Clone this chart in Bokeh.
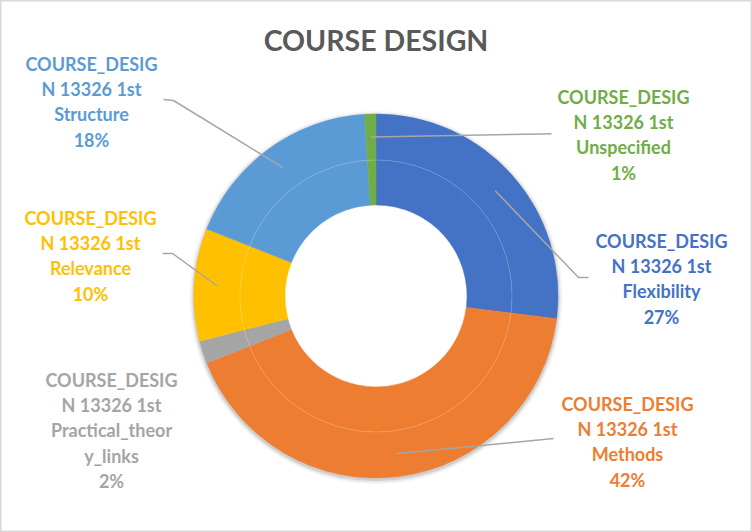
import numpy as np
from bokeh.plotting import figure
from bokeh.models import Range1d
from bokeh.core.properties import value
from bokeh.embed import file_html
from bokeh.resources import INLINE

# ---- data ----
title = "COURSE DESIGN"
series_label = ["COURSE_DESIG", "N 13326 1st"]
categories = ["Flexibility", "Methods", "Practical_theory_links", "Relevance", "Structure", "Unspecified"]
category_lines = [["Flexibility"], ["Methods"], ["Practical_theor", "y_links"], ["Relevance"], ["Structure"], ["Unspecified"]]
values = [27, 42, 2, 10, 18, 1]
colors = ["#4472C4", "#ED7D31", "#A5A5A5", "#FFC000", "#5B9BD5", "#70AD47"]

# ---- layout (pixels, image coordinates) ----
W, H = 752, 532
CX, CY = 375.5, 295.5
R_IN, R_MID, R_OUT = 91, 136, 182
label_pos = [(661, 240), (627, 403), (111, 379), (90, 217), (91, 63), (623, 96)]
label_elbows = [[(578, 277), (588, 277)], [(543, 439), (553, 438)], None,
                [(172, 253), (162, 253)], [(173, 100), (163, 99)], [(540, 133.5), (551, 133.3)]]
LINE_STEP = 25.4
FONT = "Lato"

def fy(y):
    return H - y

p = figure(width=W, height=H, output_backend="svg", toolbar_location=None,
           x_range=Range1d(0, W), y_range=Range1d(0, H), min_border=0)
p.axis.visible = False
p.grid.visible = False
p.outline_line_color = "#D9D9D9"
p.outline_line_width = 2
p.background_fill_color = "white"

vals = np.array(values, dtype=float)
frac = vals / vals.sum()
cum = np.concatenate([[0], np.cumsum(frac)])
theta1 = cum[:-1] * 360.0   # clockwise from top, degrees
theta2 = cum[1:] * 360.0
start = np.radians(90 - theta2)
end = np.radians(90 - theta1)

# soft shadow
for dr, a in [(1.5, 0.10), (3, 0.06), (4.5, 0.035)]:
    p.annular_wedge(x=CX, y=fy(CY) - 1.5, inner_radius=R_OUT - 2, outer_radius=R_OUT + dr,
                    start_angle=0, end_angle=2 * np.pi, fill_color="#000000", fill_alpha=a,
                    line_color=None)

for ri, ro in [(R_IN, R_MID), (R_MID, R_OUT)]:
    p.annular_wedge(x=[CX] * len(values), y=[fy(CY)] * len(values), inner_radius=ri, outer_radius=ro,
                    start_angle=list(start), end_angle=list(end), fill_color=colors,
                    line_color=colors, line_width=0.5)

# faint ring boundary
p.circle(x=CX, y=fy(CY), radius=R_MID, fill_color=None, line_color="white", line_alpha=0.2, line_width=1)

# leader lines
mid = np.radians((theta1 + theta2) / 2)
r_mid_ring = (R_MID + R_OUT) / 2
for i, elb in enumerate(label_elbows):
    if elb is None:
        continue
    px = CX + r_mid_ring * np.sin(mid[i])
    py = CY - r_mid_ring * np.cos(mid[i])
    xs = [px] + [e[0] for e in elb]
    ys = [fy(py)] + [fy(e[1]) for e in elb]
    p.line(xs, ys, line_color="#A6A6A6", line_width=1.5)

# labels
for i, cat in enumerate(categories):
    pct = f"{round(frac[i] * 100):.0f}%"
    lines = series_label + category_lines[i] + [pct]
    x0, y0 = label_pos[i]
    for k, t in enumerate(lines):
        p.text(x=[x0], y=[fy(y0 + k * LINE_STEP)], text=[t], text_align="center",
               text_baseline="middle", text_color=colors[i], text_font=value(FONT),
               text_font_style="bold", text_font_size="18px")

# title
p.text(x=[CX], y=[fy(39)], text=[title], text_align="center", text_baseline="middle",
       text_color="#595959", text_font=value(FONT), text_font_style="bold", text_font_size="28.5px")

open("out.html", "w").write(file_html(p, INLINE))
